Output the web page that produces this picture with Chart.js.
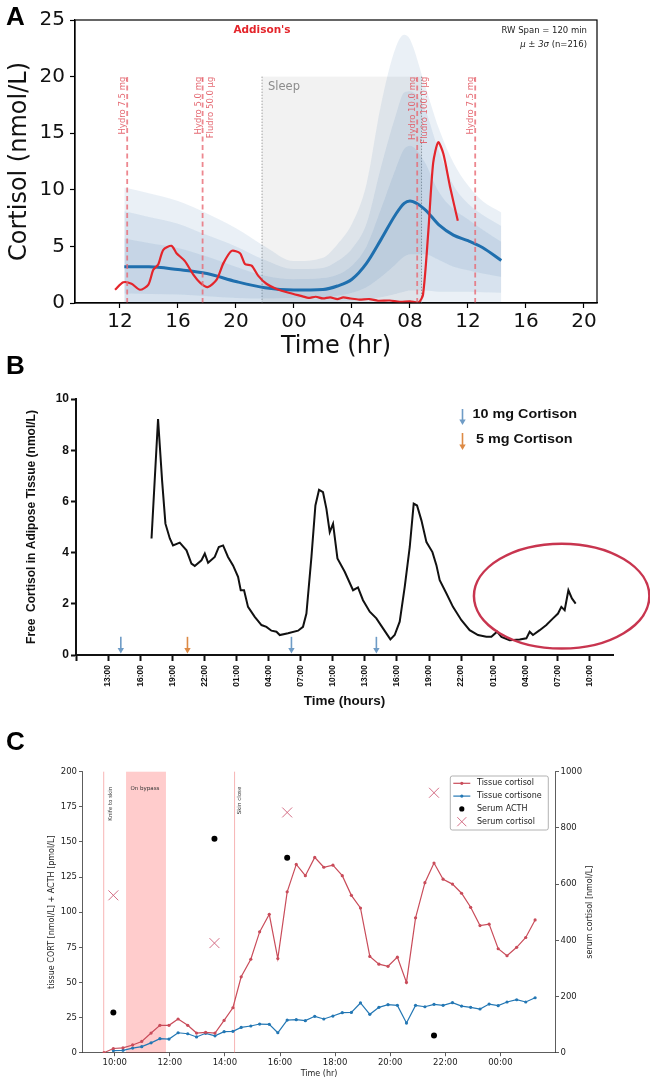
<!DOCTYPE html>
<html>
<head>
<meta charset="utf-8">
<script src="https://cdn.jsdelivr.net/npm/chart.js@4.4.1/dist/chart.umd.min.js"></script>
<style>
  body { margin: 0; background: #fff; }
  #page { position: relative; width: 650px; height: 1084px; overflow: hidden; }
  canvas { position: absolute; left: 0; }
  .tag { position: absolute; left: 6px; font: bold 26px "Liberation Sans", Arial, sans-serif; color: #000; }
</style>
</head>
<body>
<div id="page">
  <canvas id="chartA" width="650" height="362" style="top:0"></canvas>
  <canvas id="chartB" width="650" height="352" style="top:362px"></canvas>
  <canvas id="chartC" width="650" height="370" style="top:714px"></canvas>
  <div class="tag" style="top:1px">A</div>
  <div class="tag" style="top:350px">B</div>
  <div class="tag" style="top:726px">C</div>
</div>
<script>
// ---- panel A: hours counted from 12:00 on day 1
const bandHours    = [0.3, 2, 4, 6, 8, 10, 12, 14, 15, 16, 17, 18, 19, 19.6, 20, 21, 22, 23, 24, 25, 26.3];
const meanCortisol = [3.2, 3.2, 2.95, 2.6, 1.9, 1.35, 1.15, 1.2, 1.5, 2.1, 3.5, 5.6, 7.8, 8.8, 9.0, 8.3, 6.9, 6.0, 5.5, 4.9, 3.75];
const upper1 = [5.7, 5.3, 4.85, 4.1, 3.2, 2.4, 2.1, 2.2, 2.5, 3.3, 5.0, 8.3, 11.8, 13.6, 13.9, 12.5, 9.8, 8.3, 7.4, 6.5, 5.4];
const lower1 = [0.85, 0.8, 0.75, 0.6, 0.45, 0.4, 0.45, 0.5, 0.65, 0.9, 1.4, 2.3, 3.4, 4.1, 4.3, 4.3, 3.8, 3.2, 2.9, 2.6, 2.3];
const upper2 = [8.1, 7.6, 7.0, 6.0, 5.0, 3.8, 3.0, 3.1, 3.7, 4.8, 7.0, 12.0, 16.5, 18.6, 18.7, 17.2, 13.4, 10.4, 8.8, 7.8, 6.8];
const lower2 = [0.05, 0.05, 0.05, 0.05, 0.05, 0.05, 0.05, 0.05, 0.1, 0.2, 0.3, 0.5, 0.8, 1.0, 1.1, 1.1, 1.0, 1.0, 1.0, 0.95, 0.9];
const upper3 = [10.2, 9.7, 9.0, 7.9, 6.6, 5.0, 3.7, 4.0, 5.2, 7.0, 10.5, 17.5, 22.5, 23.7, 23.3, 19.4, 15.4, 12.4, 10.4, 9.0, 8.0];

const addisonHours = [-0.34, 0.23, 0.8, 1.38, 1.95, 2.3, 2.64, 2.99, 3.56, 3.9, 4.48, 5.06, 5.52, 6.05, 6.67, 7.13, 7.7, 8.28, 8.62, 9.08,
  9.54, 10.1, 10.8, 11.7, 12.6, 13.0, 13.5, 14.0, 14.5, 15.0, 15.4, 15.9, 16.5, 17.2, 17.8, 18.6, 19.3, 20.0, 20.6, 20.9,
  21.26, 21.6, 21.95, 22.3, 22.76, 23.3];
const addisonCortisol = [1.17, 1.83, 1.7, 1.17, 1.6, 2.94, 3.4, 4.7, 5.05, 4.4, 3.7, 2.5, 1.8, 1.4, 2.06, 3.5, 4.6, 4.4, 3.45, 3.3,
  2.4, 1.7, 1.24, 0.88, 0.59, 0.45, 0.55, 0.4, 0.5, 0.35, 0.5, 0.4, 0.3, 0.35, 0.2, 0.22, 0.1, 0.15, 0.06, 0.73,
  6.2, 12.35, 14.2, 13.2, 10.3, 7.26];

const doseHoursA  = [0.5, 5.7, 20.5, 24.5];
const doseLabelsA = [['Hydro 7.5 mg'], ['Hydro 5.0 mg', 'Fludro 50.0 µg'], ['Hydro 10.0 mg', 'Fludro 100.0 µg'], ['Hydro 7.5 mg']];
const sleepHours  = [9.8, 20.8];
const tickHoursA  = [0, 4, 8, 12, 16, 20, 24, 28, 32];
const tickLabelsA = ['12', '16', '20', '00', '04', '08', '12', '16', '20'];

// ---- panel B: hours counted from 10:00 on day 1
const adiposeHours = [7.06, 7.67, 8.05, 8.36, 8.77, 9.07, 9.70, 10.33, 10.79, 11.10, 11.73, 12.04, 12.35, 12.97, 13.35, 13.75, 14.21,
  14.68, 15.15, 15.40, 15.71, 16.08, 16.71, 17.34, 17.80, 18.27, 18.74, 19.05, 19.82, 20.76, 21.22, 21.54, 22.01, 22.38, 22.72,
  23.09, 23.41, 23.72, 24.03, 24.44, 25.12, 25.90, 26.36, 26.83, 27.46, 28.08, 28.70, 29.39, 29.79, 30.26, 30.73, 31.20, 31.57,
  31.88, 32.29, 32.76, 33.32, 33.69, 34.00, 34.63, 35.24, 36.03, 36.80, 37.58, 38.36, 38.83, 39.36, 39.77, 40.54, 41.48, 42.10,
  42.41, 42.72, 43.35, 43.97, 44.59, 45.06, 45.37, 45.68, 46.03, 46.36, 46.71];
const adiposeCortisol = [4.55, 9.22, 6.8, 5.13, 4.55, 4.28, 4.39, 4.09, 3.57, 3.48, 3.7, 3.96, 3.6, 3.83, 4.22, 4.28, 3.83,
  3.5, 3.05, 2.53, 2.53, 1.88, 1.49, 1.17, 1.1, 0.95, 0.91, 0.78, 0.85, 0.95, 1.1, 1.62, 3.83, 5.84, 6.45,
  6.36, 5.71, 4.8, 5.13, 3.77, 3.25, 2.53, 2.64, 2.14, 1.69, 1.43, 1.04, 0.61, 0.78, 1.3, 2.66, 4.22, 5.91,
  5.84, 5.26, 4.41, 4.02, 3.51, 2.92, 2.4, 1.88, 1.36, 0.97, 0.78, 0.71, 0.71, 0.91, 0.71, 0.58, 0.61, 0.65,
  0.91, 0.78, 0.97, 1.17, 1.43, 1.62, 1.88, 1.75, 2.53, 2.21, 2.01];
const doseHoursB  = [4.19, 10.42, 20.14, 28.08];
const doseKindB   = ['10 mg', '5 mg', '10 mg', '10 mg'];
const tickHoursB  = [3, 6, 9, 12, 15, 18, 21, 24, 27, 30, 33, 36, 39, 42, 45, 48];
const tickLabelsB = ['13:00', '16:00', '19:00', '22:00', '01:00', '04:00', '07:00', '10:00',
                     '13:00', '16:00', '19:00', '22:00', '01:00', '04:00', '07:00', '10:00'];
const ringB = { t: 45.4, level: 2.3, spanH: 8.2, spanLevel: 2.05 };

// ---- panel C: clock hours, past midnight counted on (25 = 01:00)
const tissueHours = [9.61, 9.95, 10.30, 10.65, 10.98, 11.32, 11.64, 11.97, 12.30, 12.65, 12.97, 13.30, 13.64, 13.97, 14.29, 14.59,
  14.94, 15.26, 15.61, 15.92, 16.26, 16.59, 16.92, 17.26, 17.59, 17.92, 18.26, 18.59, 18.92, 19.26, 19.59, 19.92, 20.26,
  20.59, 20.92, 21.26, 21.59, 21.92, 22.26, 22.59, 22.92, 23.26, 23.59, 23.92, 24.24, 24.59, 24.92, 25.26];
const tissueCortisol = [0, 3, 3.5, 5.5, 8, 14, 19.5, 19.5, 24, 19.5, 14, 14.5, 14, 23, 32, 54, 66.5, 86, 98.5, 67, 114.5, 134,
  126, 139, 132, 133.5, 126, 112, 103, 68.5, 63, 61.5, 68, 50, 96, 121, 135, 123.5, 120, 113.5, 103.5, 90.5, 91.5, 74, 69,
  75, 82, 94.5];
const tissueCortisone = [1.5, 1.7, 3.3, 4.3, 7, 10, 9.7, 14.2, 13.5, 11.2, 13.8, 12, 15, 15.2, 18, 19, 20.4, 20.2, 14.2,
  23.2, 23.5, 22.8, 25.9, 24, 26.1, 28.5, 28.7, 35.4, 27.3, 32.3, 34.2, 33.7, 21.1, 33.7, 32.7, 34.4, 33.7, 35.6, 33.2,
  32.3, 31.1, 34.6, 33.5, 36.1, 37.7, 36.1, 39.1];
const serumHours    = [9.95, 13.62, 16.26, 21.59];
const serumACTH     = [28.7, 152.3, 138.8, 12.3];
const serumCortisol = [560, 390, 855, 925];
const surgeryEvents = [9.6, 14.35];
const bypassHours   = [10.41, 11.86];
const tickHoursC    = [10, 12, 14, 16, 18, 20, 22, 24];
const tickLabelsC   = ['10:00', '12:00', '14:00', '16:00', '18:00', '20:00', '22:00', '00:00'];

Chart.defaults.font.family = "'DejaVu Sans', sans-serif";
Chart.defaults.animation = false;
Chart.defaults.responsive = false;
Chart.defaults.plugins.legend.display = false;
Chart.defaults.plugins.tooltip.enabled = false;

const pts = (xs, ys) => xs.map((x, i) => ({ x: x, y: ys[i] }));
const ARIAL = "'Liberation Sans', Arial, sans-serif";

function vText(ctx, text, x, y) {
  // text reading bottom-to-top, its end at (x, y)
  ctx.save();
  ctx.translate(x, y);
  ctx.rotate(-Math.PI / 2);
  ctx.fillText(text, 0, 0);
  ctx.restore();
}

// ================= A =================
const bandFill = 'rgba(50,110,170,0.1)';
const band = (ys, fill) => ({
  data: pts(bandHours, ys), fill: fill, backgroundColor: bandFill,
  borderColor: 'transparent', borderWidth: 0, cubicInterpolationMode: 'monotone', order: 5
});

const panelA = {
  id: 'panelA',
  beforeDatasetsDraw(chart) {
    const { ctx, scales: { x, y } } = chart;
    const x0 = x.getPixelForValue(sleepHours[0]), x1 = x.getPixelForValue(sleepHours[1]);
    const yTop = y.getPixelForValue(20), yBot = y.getPixelForValue(0);
    ctx.save();
    ctx.fillStyle = 'rgba(140,140,140,0.11)';
    ctx.fillRect(x0, yTop, x1 - x0, yBot - yTop);
    ctx.strokeStyle = '#a0a0a0';
    ctx.lineWidth = 1;
    ctx.setLineDash([1.5, 1.5]);
    [x0, x1].forEach(px => {
      ctx.beginPath(); ctx.moveTo(px, yTop); ctx.lineTo(px, yBot); ctx.stroke();
    });
    ctx.restore();
  },
  afterDatasetsDraw(chart) {
    const { ctx, chartArea: a, scales: { x, y } } = chart;
    const yTop = y.getPixelForValue(20), yBot = y.getPixelForValue(0);
    ctx.save();
    ctx.strokeStyle = 'rgba(232,105,115,0.8)';
    ctx.lineWidth = 1.8;
    ctx.setLineDash([5, 3.5]);
    doseHoursA.forEach(h => {
      const px = x.getPixelForValue(h);
      ctx.beginPath(); ctx.moveTo(px, yBot); ctx.lineTo(px, yTop); ctx.stroke();
    });
    ctx.setLineDash([]);
    ctx.fillStyle = 'rgba(225,90,100,0.9)';
    ctx.font = '8.5px "DejaVu Sans"';
    ctx.textAlign = 'right';
    ctx.textBaseline = 'alphabetic';
    doseHoursA.forEach((h, i) => {
      const px = x.getPixelForValue(h);
      doseLabelsA[i].forEach((line, j) => vText(ctx, line, px - 2 + j * 12, yTop));
    });

    ctx.textAlign = 'left';
    ctx.textBaseline = 'middle';
    ctx.fillStyle = '#8c8c8c';
    ctx.font = '11.5px "DejaVu Sans"';
    ctx.fillText('Sleep', x.getPixelForValue(sleepHours[0]) + 6, yTop + 10.5);

    ctx.textAlign = 'center';
    ctx.fillStyle = '#e4252b';
    ctx.font = 'bold 10.5px "DejaVu Sans"';
    ctx.fillText("Addison's", a.left + 187, a.top + 10.5);

    ctx.fillStyle = '#222';
    ctx.font = '8.5px "DejaVu Sans"';
    ctx.textAlign = 'right';
    ctx.fillText('RW Span = 120 min', a.right - 10, a.top + 11);
    const tail = ' (n=216)';
    ctx.fillText(tail, a.right - 10, a.top + 25);
    const w = ctx.measureText(tail).width;
    ctx.font = 'italic 8.5px "DejaVu Sans"';
    ctx.fillText('μ ± 3σ', a.right - 10 - w, a.top + 25);
    ctx.restore();
  },
  afterDraw(chart) {
    const { ctx, chartArea: a } = chart;
    ctx.save();
    ctx.strokeStyle = '#000';
    ctx.lineWidth = 1.2;
    ctx.strokeRect(a.left, a.top, a.right - a.left, a.bottom - a.top);
    ctx.restore();
  }
};

new Chart(document.getElementById('chartA'), {
  type: 'line',
  data: {
    datasets: [
      { data: pts(addisonHours, addisonCortisol), borderColor: '#e4252b', borderWidth: 2.2, tension: 0.25, order: 0 },
      { data: pts(bandHours, meanCortisol), borderColor: '#1f6fae', borderWidth: 3, cubicInterpolationMode: 'monotone', order: 1 },
      band(upper3, 'origin'),
      band(lower2, false),
      band(upper2, '-1'),
      band(lower1, false),
      band(upper1, '-1')
    ]
  },
  options: {
    elements: { point: { radius: 0 } },
    layout: { padding: { top: 20, right: 53, left: 0, bottom: 0 } },
    scales: {
      x: {
        type: 'linear', min: -3.1, max: 32.9,
        afterBuildTicks: s => { s.ticks = tickHoursA.map(v => ({ value: v })); },
        afterFit: s => { s.height = 59; },
        grid: { drawOnChartArea: false, tickLength: 5, tickColor: '#000', tickWidth: 1.2 },
        border: { color: '#000', width: 1.2 },
        ticks: { font: { size: 20 }, color: '#111', padding: 2, maxRotation: 0, autoSkip: false,
                 callback: (v, i) => tickLabelsA[i] },
        title: { display: true, text: 'Time (hr)', font: { size: 24 }, color: '#111', padding: { top: 0, bottom: 1 } }
      },
      y: {
        min: 0, max: 25,
        afterFit: s => { s.width = 75; },
        grid: { drawOnChartArea: false, tickLength: 5, tickColor: '#000', tickWidth: 1.2 },
        border: { color: '#000', width: 1.2 },
        ticks: { stepSize: 5, font: { size: 20 }, color: '#111', padding: 5 },
        title: { display: true, text: 'Cortisol (nmol/L)', font: { size: 24 }, color: '#111', padding: { top: 5, bottom: 0 } }
      }
    }
  },
  plugins: [panelA]
});

// ================= B =================
const doseColour = { '10 mg': '#6f9cc6', '5 mg': '#dd8a45' };

function arrowDown(ctx, x, y0, y1, colour) {
  ctx.save();
  ctx.strokeStyle = colour;
  ctx.fillStyle = colour;
  ctx.lineWidth = 1.6;
  ctx.beginPath(); ctx.moveTo(x, y0); ctx.lineTo(x, y1 - 4); ctx.stroke();
  ctx.beginPath(); ctx.moveTo(x - 3.2, y1 - 5.5); ctx.lineTo(x + 3.2, y1 - 5.5); ctx.lineTo(x, y1); ctx.closePath(); ctx.fill();
  ctx.restore();
}

function wideText(ctx, text, x, y, sx) {
  ctx.save();
  ctx.translate(x, y);
  ctx.scale(sx, 1);
  ctx.fillText(text, 0, 0);
  ctx.restore();
}

const panelB = {
  id: 'panelB',
  afterDraw(chart) {
    const { ctx, chartArea: a, scales: { x, y } } = chart;
    ctx.save();
    // rotated clock labels
    ctx.fillStyle = '#111';
    ctx.font = 'bold 8.5px ' + ARIAL;
    ctx.textAlign = 'right';
    ctx.textBaseline = 'middle';
    tickHoursB.forEach((h, i) => vText(ctx, tickLabelsB[i], x.getPixelForValue(h), a.bottom + 10));

    // dose arrows
    doseHoursB.forEach((h, i) => {
      const px = x.getPixelForValue(h);
      arrowDown(ctx, px, y.getPixelForValue(0.71), y.getPixelForValue(0.06), doseColour[doseKindB[i]]);
    });

    // legend
    const lx = a.left + 386.5;
    arrowDown(ctx, lx, a.top + 10, a.top + 26, doseColour['10 mg']);
    arrowDown(ctx, lx, a.top + 34, a.top + 51, doseColour['5 mg']);
    ctx.fillStyle = '#111';
    ctx.font = 'bold 12.5px ' + ARIAL;
    ctx.textAlign = 'left';
    ctx.textBaseline = 'middle';
    wideText(ctx, '10 mg Cortison', lx + 10, a.top + 16, 1.15);
    wideText(ctx, '5 mg Cortison', lx + 13.5, a.top + 40.5, 1.15);

    // highlight ring
    const cx = x.getPixelForValue(ringB.t), cy = y.getPixelForValue(ringB.level);
    const rx = x.getPixelForValue(ringB.t + ringB.spanH) - cx;
    const ry = cy - y.getPixelForValue(ringB.level + ringB.spanLevel);
    ctx.strokeStyle = '#c8354f';
    ctx.lineWidth = 2.5;
    ctx.beginPath();
    ctx.ellipse(cx, cy, rx, ry, 0, 0, Math.PI * 2);
    ctx.stroke();
    ctx.restore();
  }
};

new Chart(document.getElementById('chartB'), {
  type: 'line',
  data: {
    datasets: [{ data: pts(adiposeHours, adiposeCortisol), borderColor: '#111', borderWidth: 2, pointRadius: 0, tension: 0 }]
  },
  options: {
    layout: { padding: { top: 37, right: 37, left: 0, bottom: 0 } },
    scales: {
      x: {
        type: 'linear', min: 0, max: 50.2,
        afterBuildTicks: s => { s.ticks = [0].concat(tickHoursB).map(v => ({ value: v })); },
        afterFit: s => { s.height = 59; },
        grid: { drawOnChartArea: false, tickLength: 6, tickWidth: 2, tickColor: '#111' },
        border: { color: '#111', width: 2 },
        ticks: { display: false },
        title: { display: true, text: 'Time (hours)', font: { family: ARIAL, weight: 'bold', size: 13.5 }, color: '#111',
                 padding: { top: 0, bottom: 5 } }
      },
      y: {
        min: 0, max: 10,
        afterFit: s => { s.width = 76; },
        grid: { drawOnChartArea: false, tickLength: 5, tickWidth: 2, tickColor: '#111' },
        border: { color: '#111', width: 2 },
        ticks: { stepSize: 2, font: { family: ARIAL, weight: 'bold', size: 12 }, color: '#111', padding: 2 },
        title: { display: true, text: 'Free  Cortisol in Adipose Tissue (nmol/L)', font: { family: ARIAL, weight: 'bold', size: 12 },
                 color: '#111', padding: { top: 24, bottom: 0 } }
      }
    }
  },
  plugins: [panelB]
});

// ================= C =================
const cRed = '#c94c5a', cBlue = '#2377b4', cCross = '#cf5f78';

const panelC = {
  id: 'panelC',
  beforeDatasetsDraw(chart) {
    const { ctx, chartArea: a, scales: { x } } = chart;
    ctx.save();
    const b0 = x.getPixelForValue(bypassHours[0]), b1 = x.getPixelForValue(bypassHours[1]);
    ctx.fillStyle = 'rgba(255,0,0,0.2)';
    ctx.fillRect(b0, a.top, b1 - b0, a.bottom - a.top);
    ctx.strokeStyle = 'rgba(240,120,120,0.55)';
    ctx.lineWidth = 1;
    surgeryEvents.forEach(h => {
      const px = x.getPixelForValue(h);
      ctx.beginPath(); ctx.moveTo(px, a.top); ctx.lineTo(px, a.bottom); ctx.stroke();
    });
    ctx.restore();
  },
  afterDraw(chart) {
    const { ctx, chartArea: a, scales: { x } } = chart;
    ctx.save();
    ctx.fillStyle = '#333';
    ctx.font = '5.5px "DejaVu Sans"';
    ctx.textBaseline = 'middle';
    ctx.textAlign = 'left';
    ctx.fillText('On bypass', x.getPixelForValue(bypassHours[0]) + 4.5, a.top + 16.5);
    ctx.textAlign = 'right';
    ctx.textBaseline = 'alphabetic';
    vText(ctx, 'Knife to skin', x.getPixelForValue(surgeryEvents[0]) + 8, a.top + 15);
    vText(ctx, 'Skin close', x.getPixelForValue(surgeryEvents[1]) + 6, a.top + 15);

    // right axis title
    ctx.fillStyle = '#222';
    ctx.font = '8px "DejaVu Sans"';
    ctx.textAlign = 'center';
    ctx.textBaseline = 'middle';
    vText(ctx, 'serum cortisol [nmol/L]', a.right + 34, (a.top + a.bottom) / 2);

    // legend
    const bw = 98, bh = 54;
    const bx = a.right - 7.2 - bw, by = a.top + 4.3;
    ctx.fillStyle = 'rgba(255,255,255,0.85)';
    ctx.strokeStyle = '#a0a0a0';
    ctx.lineWidth = 0.8;
    ctx.beginPath();
    ctx.roundRect(bx, by, bw, bh, 2);
    ctx.fill();
    ctx.stroke();
    const rows = [
      { text: 'Tissue cortisol', kind: 'line', colour: cRed },
      { text: 'Tissue cortisone', kind: 'line', colour: cBlue },
      { text: 'Serum ACTH', kind: 'dot', colour: '#000' },
      { text: 'Serum cortisol', kind: 'cross', colour: cCross }
    ];
    rows.forEach((r, i) => {
      const ry = by + 7.3 + i * 12.8;
      const hx0 = bx + 3, hx1 = bx + 20, hm = (hx0 + hx1) / 2;
      ctx.strokeStyle = r.colour;
      ctx.fillStyle = r.colour;
      if (r.kind === 'line') {
        ctx.lineWidth = 1.2;
        ctx.beginPath(); ctx.moveTo(hx0, ry); ctx.lineTo(hx1, ry); ctx.stroke();
        ctx.beginPath(); ctx.arc(hm, ry, 1.6, 0, Math.PI * 2); ctx.fill();
      } else if (r.kind === 'dot') {
        ctx.beginPath(); ctx.arc(hm, ry, 2.6, 0, Math.PI * 2); ctx.fill();
      } else {
        ctx.lineWidth = 0.9;
        ctx.beginPath();
        ctx.moveTo(hm - 4.5, ry - 4.5); ctx.lineTo(hm + 4.5, ry + 4.5);
        ctx.moveTo(hm + 4.5, ry - 4.5); ctx.lineTo(hm - 4.5, ry + 4.5);
        ctx.stroke();
      }
      ctx.fillStyle = '#222';
      ctx.font = '8px "DejaVu Sans"';
      ctx.textAlign = 'left';
      ctx.textBaseline = 'middle';
      ctx.fillText(r.text, bx + 26.7, ry);
    });
    ctx.restore();
  }
};

const axisC = {
  grid: { drawOnChartArea: false, tickLength: 3.5, tickColor: '#333', tickWidth: 0.8 },
  border: { color: '#333', width: 0.8 }
};

new Chart(document.getElementById('chartC'), {
  type: 'line',
  data: {
    datasets: [
      { label: 'Tissue cortisol', data: pts(tissueHours, tissueCortisol), borderColor: cRed, backgroundColor: cRed,
        borderWidth: 1.2, pointRadius: 1.6, pointBorderWidth: 0, tension: 0, yAxisID: 'y' },
      { label: 'Tissue cortisone', data: pts(tissueHours.slice(1), tissueCortisone), borderColor: cBlue, backgroundColor: cBlue,
        borderWidth: 1.2, pointRadius: 1.6, pointBorderWidth: 0, tension: 0, yAxisID: 'y' },
      { label: 'Serum ACTH', data: pts(serumHours, serumACTH), showLine: false, pointRadius: 3,
        backgroundColor: '#000', borderColor: '#000', pointBorderWidth: 0, yAxisID: 'y' },
      { label: 'Serum cortisol', data: pts(serumHours, serumCortisol), showLine: false, pointStyle: 'crossRot', pointRadius: 7,
        borderColor: cCross, pointBorderWidth: 0.9, yAxisID: 'y2' }
    ]
  },
  options: {
    layout: { padding: { top: 57.7, right: 0, left: 0, bottom: 0 } },
    scales: {
      x: Object.assign({
        type: 'linear', min: 8.83, max: 26,
        afterBuildTicks: s => { s.ticks = tickHoursC.map(v => ({ value: v })); },
        afterFit: s => { s.height = 31.3; },
        ticks: { font: { size: 8.5 }, color: '#222', padding: 1.4, maxRotation: 0, autoSkip: false,
                 callback: (v, i) => tickLabelsC[i] },
        title: { display: true, text: 'Time (hr)', font: { size: 8 }, color: '#222', padding: { top: 0, bottom: 5 } }
      }, axisC),
      y: Object.assign({
        min: 0, max: 200,
        afterFit: s => { s.width = 82.5; },
        ticks: { stepSize: 25, font: { size: 8.5 }, color: '#222', padding: 2 },
        title: { display: true, text: 'tissue CORT [nmol/L] + ACTH [pmol/L]', font: { size: 8 }, color: '#222',
                 padding: { top: 47, bottom: 0 } }
      }, axisC),
      y2: Object.assign({
        position: 'right', min: 0, max: 1000,
        afterFit: s => { s.width = 94.5; },
        ticks: { stepSize: 200, font: { size: 8.5 }, color: '#222', padding: 1.5, callback: v => String(v) }
      }, axisC)
    }
  },
  plugins: [panelC]
});
</script>
</body>
</html>
